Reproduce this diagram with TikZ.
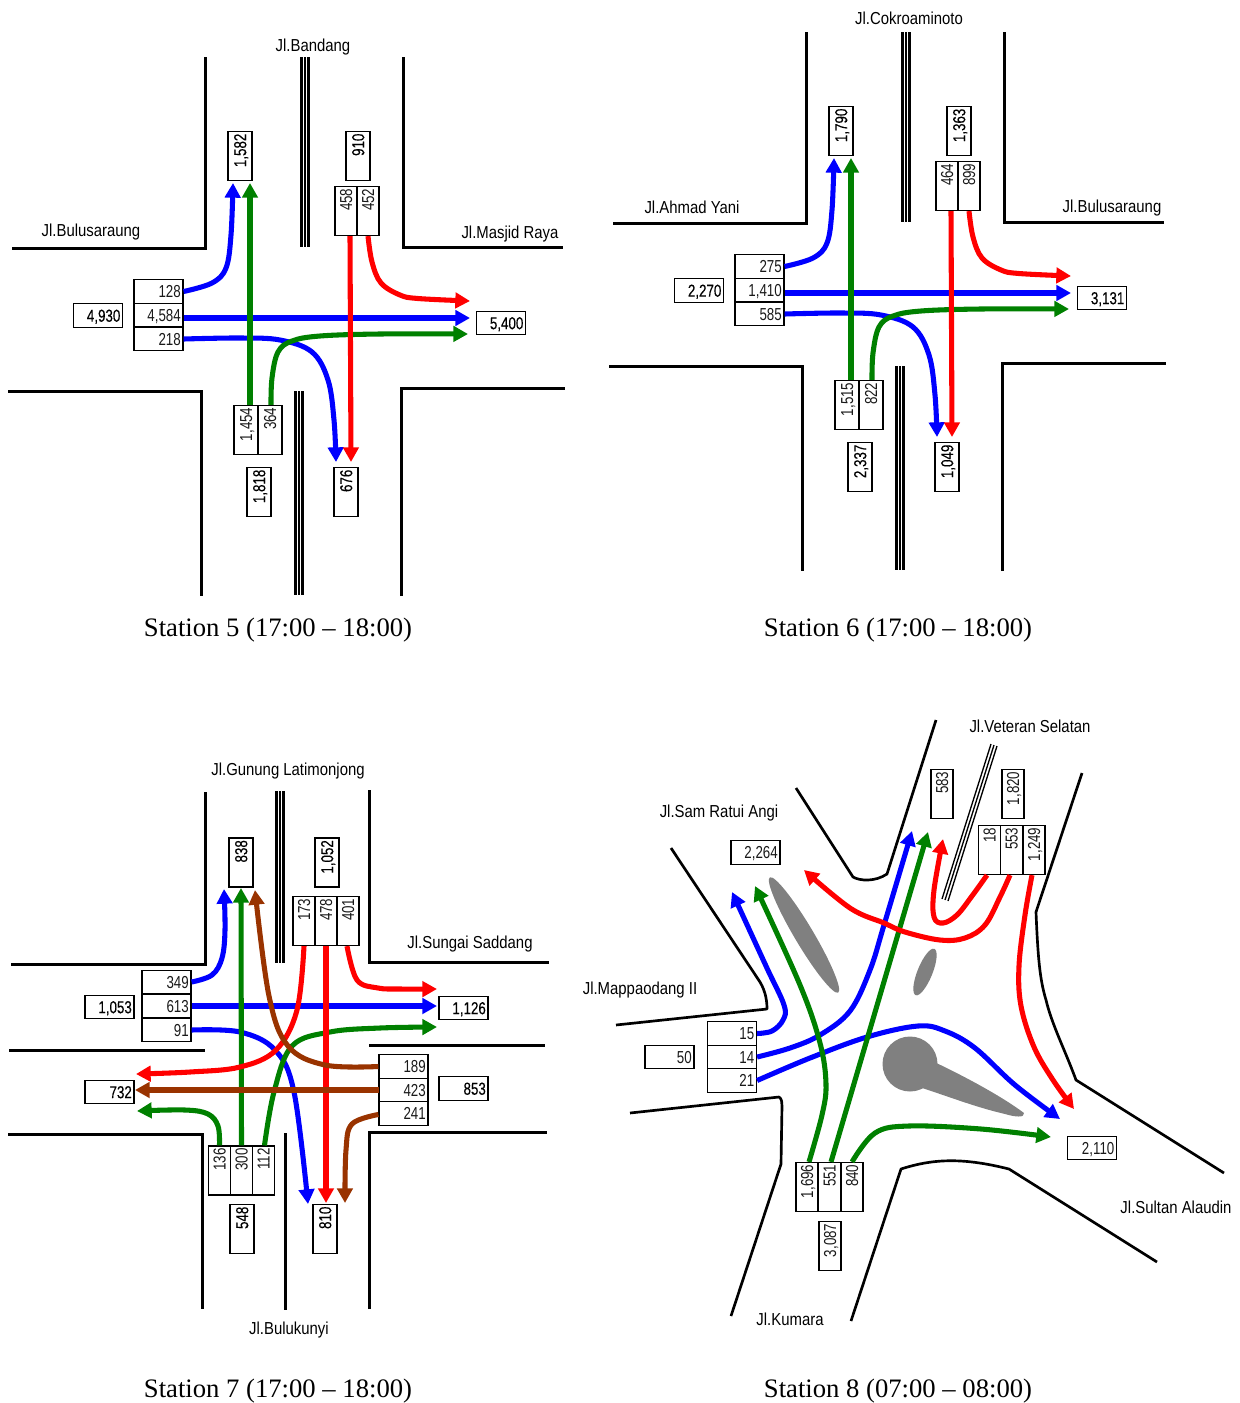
\documentclass[tikz,border=0pt]{standalone}
\usepackage{fontspec}
\usetikzlibrary{arrows.meta}
\setmainfont{Liberation Serif}
\newfontfamily\numfont[FakeStretch=0.77]{Liberation Sans}
\newfontfamily\totfont[FakeStretch=0.77,FakeBold=0.25]{Liberation Sans}
\newfontfamily\roadfont[FakeStretch=0.86]{Liberation Sans}
\definecolor{fblue}{RGB}{0,0,255}
\definecolor{fgreen}{RGB}{0,128,0}
\definecolor{fred}{RGB}{255,0,0}
\definecolor{fbrown}{RGB}{153,51,0}
\definecolor{island}{RGB}{128,128,128}
\tikzset{
  cell/.style={draw=black,line width=.95pt,inner xsep=1.6pt,inner ysep=0pt,text width=33.5pt,align=right,
    text height=9.3pt,text depth=0pt,minimum height=17.6pt,font=\numfont\fontsize{13}{14}\selectfont,text=black!90},
  total/.style={cell,font=\totfont\fontsize{13}{14}\selectfont,text=black},
  upright/.style={rotate=90,minimum height=18pt},
  narrow/.style={minimum height=16.6pt},
  road/.style={line width=2.25pt,line join=miter,draw=black},
  road8/.style={line width=2pt,line join=round,draw=black},
  medianline/.style={line width=2pt,draw=black},
  thinmedian/.style={line width=1pt,draw=black},
  flow/.style={line width=3.8pt,draw=#1,-{Triangle[length=11pt,width=11.5pt,fill=#1]}},
  roadname/.style={font=\roadfont\fontsize{13}{14}\selectfont,inner sep=0pt},
  caption/.style={font=\fontsize{20}{22}\selectfont,inner sep=0pt},
  isle/.style={fill=island,draw=none}
}
\newcommand\flowline[4]{\coordinate (tip) at #4;
  \draw[flow=#1] plot[smooth,tension=.6] coordinates {#2 #3 (tip)};}
\newcommand\median[3]{%
  \draw[medianline] (#1-3.7,#2) -- (#1-3.7,#3);
  \draw[medianline] (#1,#2) -- (#1,#3);
  \draw[medianline] (#1+3.7,#2) -- (#1+3.7,#3);}
% the crossing shared by stations 5 and 6
\newcommand\crossbody{%
  \draw[road] (12,248) -- (205,248) -- (205,57);
  \draw[road] (403,57) -- (403,247) -- (563,247);
  \draw[road] (8,391) -- (201,391) -- (201,596);
  \draw[road] (401,596) -- (401,388) -- (565,388);
  \median{305}{57}{247}
  \median{299}{391}{595}
  \node[cell] (lt) at (158.5,291.5) {\vLa};
  \node[cell] (lm) at (158.5,315) {\vLb};
  \node[cell] (lb) at (158.5,339) {\vLc};
  \node[total] (tl) at (98,315.5) {\vTl};
  \node[total] (tr) at (501,323) {\vTr};
  \node[total,upright] (xa) at (240,156) {\vXa};
  \node[total,upright] (xb) at (358,156) {\vXb};
  \node[cell,upright,narrow] (na) at (346,211) {\vNa};
  \node[cell,upright,narrow] (nb) at (368,211) {\vNb};
  \node[cell,upright] (sa) at (246,430) {\vSa};
  \node[cell,upright] (sb) at (270,430) {\vSb};
  \node[total,upright] (xc) at (259,492) {\vXc};
  \node[total,upright] (xd) at (346,492) {\vXd};
  \flowline{fblue}{([shift={(0,3)}]lm.east)}{}{(470,318)}
  \flowline{fblue}{(lt.east)}{(212,283) (226,268) (231,235)}{(233,183)}
  \flowline{fblue}{(lb.east)}{(240,338) (280,340) (312,352) (328,380) (334,420)}{(336,462)}
  \flowline{fgreen}{([shift={(4,0)}]sa.east)}{}{(250,183)}
  \flowline{fgreen}{([shift={(1,0)}]sb.east)}{(272,378) (278,352) (292,341) (320,336) (380,334)}{(468,334)}
  \flowline{fred}{([shift={(4,0)}]na.west)}{}{(351,462)}
  \flowline{fred}{(nb.west)}{(372,262) (381,283) (400,295) (418,298.5)}{(470,301)}
}
\begin{document}
\begin{tikzpicture}[x=0.75pt,y=-0.75pt]
\useasboundingbox (0,0) rectangle (1239,1403);
% ---- Station 5
\begin{scope}[name prefix=a-]
  \def\vLa{128}\def\vLb{4,584}\def\vLc{218}\def\vTl{4,930}\def\vTr{5,400}
  \def\vXa{1,582}\def\vXb{910}\def\vNa{458}\def\vNb{452}\def\vSa{1,454}\def\vSb{364}\def\vXc{1,818}\def\vXd{676}
  \crossbody
\end{scope}
\node[roadname] (a1) at (313,47.5) {Jl.Bandang};
\node[roadname] (a2) at (91,232.5) {Jl.Bulusaraung};
\node[roadname] (a3) at (510,234.5) {Jl.Masjid Raya};
\node[caption] (ca) at (278,630) {Station 5 (17:00 – 18:00)};
% ---- Station 6
\begin{scope}[shift={(601,-25)},name prefix=b-]
  \def\vLa{275}\def\vLb{1,410}\def\vLc{585}\def\vTl{2,270}\def\vTr{3,131}
  \def\vXa{1,790}\def\vXb{1,363}\def\vNa{464}\def\vNb{899}\def\vSa{1,515}\def\vSb{822}\def\vXc{2,337}\def\vXd{1,049}
  \crossbody
\end{scope}
\node[roadname] (b1) at (909,18) {Jl.Cokroaminoto};
\node[roadname] (b2) at (692,207) {Jl.Ahmad Yani};
\node[roadname] (b3) at (1112,208) {Jl.Bulusaraung};
\node[caption] (cb) at (898,630) {Station 6 (17:00 – 18:00)};
% ---- Station 7
\begin{scope}[name prefix=c-]
  \draw[road] (11,964) -- (205,964) -- (205,792);
  \draw[road] (369,790) -- (369,962) -- (549,962);
  \draw[road] (9,1050) -- (205,1050);
  \draw[road] (369,1045) -- (545,1045);
  \draw[road] (8,1134) -- (202,1134) -- (202,1309);
  \draw[road] (369,1309) -- (369,1132) -- (547,1132);
  \median{280}{791}{963}
  \draw[road] (285,1133) -- (285,1310);
  \node[cell] (lt) at (166.5,982) {349};
  \node[cell] (lm) at (166.5,1006) {613};
  \node[cell] (lb) at (166.5,1030) {91};
  \node[cell] (rt) at (403.5,1066.5) {189};
  \node[cell] (rm) at (403.5,1090) {423};
  \node[cell] (rb) at (403.5,1113.5) {241};
  \node[total] (tl) at (109.5,1007) {1,053};
  \node[total] (tx) at (109.5,1092) {732};
  \node[total] (tr) at (463.5,1008) {1,126};
  \node[total] (ty) at (463.5,1088.5) {853};
  \node[total,upright] (xa) at (241,862.5) {838};
  \node[total,upright] (xb) at (327,862.5) {1,052};
  \node[cell,upright,narrow] (na) at (304,921) {173};
  \node[cell,upright,narrow] (nb) at (326,921) {478};
  \node[cell,upright,narrow] (nc) at (348,921) {401};
  \node[cell,upright,narrow] (sa) at (219.5,1170.5) {136};
  \node[cell,upright,narrow] (sb) at (241.5,1170.5) {300};
  \node[cell,upright,narrow] (sc) at (263.5,1170.5) {112};
  \node[total,upright] (xc) at (242,1229) {548};
  \node[total,upright] (xd) at (325,1229) {810};
  \flowline{fblue}{(lm.east)}{}{(437,1006)}
  \flowline{fblue}{(lt.east)}{(212,975) (222,958) (225,930)}{(224,889)}
  \flowline{fblue}{(lb.east)}{(240,1032) (275,1050) (294,1092)}{(308,1204)}
  \flowline{fgreen}{(sb.east)}{}{(241,888)}
  \flowline{fgreen}{(sa.east)}{(218,1126) (208,1114) (185,1110)}{(137,1111)}
  \flowline{fgreen}{([shift={(1,0)}]sc.east)}{(274,1092) (292,1046) (330,1032) (380,1028)}{(437,1027)}
  \flowline{fred}{(nb.west)}{}{(326,1203)}
  \flowline{fred}{(na.west)}{(297,1010) (276,1050) (240,1067) (190,1072)}{(136,1074)}
  \flowline{fred}{([shift={(-1,0)}]nc.west)}{(357,980) (378,988) (400,989)}{(437,989)}
  \flowline{fbrown}{(rm.west)}{}{(135,1090)}
  \flowline{fbrown}{(rt.west)}{(325,1065) (288,1046) (269,996)}{(255,890)}
  \flowline{fbrown}{([shift={(0,1)}]rb.west)}{(352,1124) (346,1150)}{(345,1203)}
\end{scope}
\node[roadname] (c1) at (288,771.5) {Jl.Gunung Latimonjong};
\node[roadname] (c2) at (470,944.5) {Jl.Sungai Saddang};
\node[roadname] (c3) at (289,1330.5) {Jl.Bulukunyi};
\node[caption] (cc) at (278,1391) {Station 7 (17:00 – 18:00)};
% ---- Station 8
\begin{scope}[name prefix=d-]
  \draw[road8] (796,788) -- (853,877) .. controls (860,881) and (875,882) .. (887,874) -- (936,720);
  \draw[road8] (671,848) -- (760,982) .. controls (766,992) and (767,1002) .. (767,1009) -- (616,1025);
  \draw[road8] (630,1113) -- (779,1097) .. controls (782,1099) and (782,1103) .. (782,1106) -- (781,1164) -- (731,1316);
  \draw[road8] (851,1321) -- (901,1169) .. controls (935,1158) and (965,1158) .. (1009,1169) -- (1157,1262);
  \draw[road8] (1082,773) -- (1036,912) .. controls (1038,960) and (1040,980) .. (1046,1000) .. controls (1052,1025) and (1065,1050) .. (1076,1080) -- (1224,1173);
  \draw[thinmedian] (942,899) -- (991,744);
  \draw[thinmedian] (945,900) -- (994,745);
  \draw[thinmedian] (948,901) -- (997,746);
  \fill[isle,rotate around={-59.3:(804,935)}] (804,935) ellipse [x radius=67,y radius=9.5];
  \fill[isle,rotate around={68:(925,972)}] (925,972) ellipse [x radius=25,y radius=7.5];
  \fill[isle] (910,1064) circle [radius=27.5];
  \fill[isle] (930,1060) .. controls (960,1074) and (1000,1095) .. (1024,1113) .. controls (1025,1118) and (1015,1117) .. (1005,1114) .. controls (975,1107) and (950,1097) .. (922,1088) -- cycle;
  \node[cell] (lt) at (732,1033.5) {15};
  \node[cell] (lm) at (732,1057) {14};
  \node[cell] (lb) at (732,1080.5) {21};
  \node[cell] (tl) at (669.5,1057) {50};
  \node[cell] (ta) at (755.5,852.5) {2,264};
  \node[cell] (tr) at (1092,1148) {2,110};
  \node[cell,upright,narrow] (xa) at (942,794) {583};
  \node[cell,upright,narrow] (xb) at (1013,794) {1,820};
  \node[cell,upright,narrow] (na) at (989.5,850) {18};
  \node[cell,upright,narrow] (nb) at (1011.5,850) {553};
  \node[cell,upright,narrow] (nc) at (1034,850) {1,249};
  \node[cell,upright,narrow] (sa) at (807,1187) {1,696};
  \node[cell,upright,narrow] (sb) at (829.5,1187) {551};
  \node[cell,upright,narrow] (sc) at (852,1187) {840};
  \node[cell,upright,narrow] (xc) at (830,1246) {3,087};
  \flowline{fblue}{(lt.east)}{(772,1031) (783,1020) (784,1005) (766,966)}{(732,892)}
  \flowline{fblue}{(lm.east)}{(790,1048) (820,1035) (850,1011) (870,970) (884,925)}{(912,831)}
  \flowline{fblue}{(lb.east)}{(810,1058) (867,1037) (918,1026) (945,1031) (975,1048) (1015,1085)}{(1060,1119)}
  \flowline{fgreen}{([shift={(2,0)}]sa.east)}{(822,1115) (826,1084) (820,1043) (800,985)}{(755,886)}
  \flowline{fgreen}{([shift={(1.5,0)}]sb.east)}{}{(928,832)}
  \flowline{fgreen}{(sc.east)}{(875,1133) (909,1126) (981,1129)}{(1051,1137)}
  \flowline{fred}{([shift={(-2.5,0)}]na.west)}{(972,896) (957,915) (943,923) (934,917) (934,890)}{(943,839)}
  \flowline{fred}{([shift={(-1.5,0)}]nb.west)}{(1000,897) (985,925) (965,938) (940,940) (905,932) (884,923) (850,908)}{(804,870)}
  \flowline{fred}{([shift={(-2,0)}]nc.west)}{(1025,915) (1019,966) (1021,1006) (1034,1047) (1053,1080)}{(1074,1109)}
\end{scope}
\node[roadname] (d1) at (1030,726.5) {Jl.Veteran Selatan};
\node[roadname] (d2) at (719,813.5) {Jl.Sam Ratui Angi};
\node[roadname] (d3) at (640,990.5) {Jl.Mappaodang II};
\node[roadname] (d4) at (1176,1207.5) {Jl.Sultan Alaudin};
\node[roadname] (d5) at (790,1319.5) {Jl.Kumara};
\node[caption] (cd) at (898,1391) {Station 8 (07:00 – 08:00)};
\end{tikzpicture}
\end{document}
